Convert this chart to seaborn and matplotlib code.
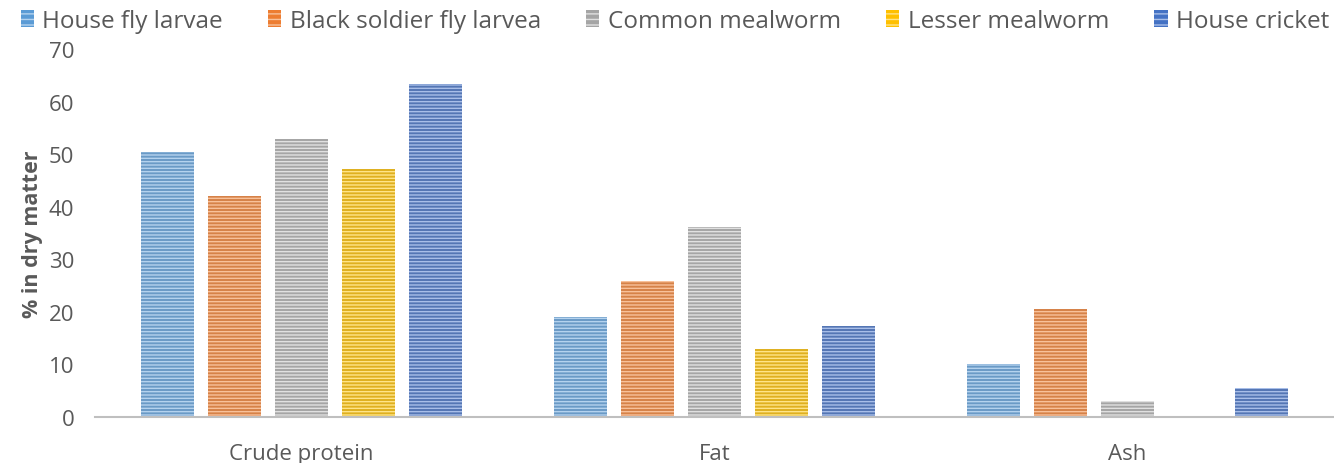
import matplotlib
matplotlib.use("Agg")
import pandas as pd
import seaborn as sns
from matplotlib import pyplot as plt
from matplotlib.patches import Patch

nutrients = ["Crude protein", "Fat", "Ash"]
insects = ["House fly larvae", "Black soldier fly larvea", "Common mealworm",
           "Lesser mealworm", "House cricket"]
house_fly = [50.4, 19.0, 10.1]
black_soldier = [42.0, 25.9, 20.5]
common_mealworm = [52.8, 36.1, 3.0]
lesser_mealworm = [47.1, 12.9, 0.0]
house_cricket = [63.3, 17.3, 5.5]

colors = ["#5B9BD5", "#ED7D31", "#A5A5A5", "#FFC000", "#4472C4"]
stripe_colors = ["#B4D2EE", "#F8C19A", "#E0E0E0", "#FFE488", "#A8BEE8"]

values = [house_fly, black_soldier, common_mealworm, lesser_mealworm, house_cricket]
rows = []
for name, vals in zip(insects, values):
    for nut, v in zip(nutrients, vals):
        rows.append({"nutrient": nut, "insect": name, "value": v})
data = pd.DataFrame(rows)

sns.set_style("white")
plt.rcParams["font.family"] = ["Open Sans", "DejaVu Sans"]
plt.rcParams["hatch.linewidth"] = 1.0

fig = plt.figure(figsize=(13.34, 4.64), dpi=100)
ax = fig.add_axes([0.0712, 0.0991, 0.9288, 0.793])

sns.barplot(data, x="nutrient", y="value", hue="insect", order=nutrients, hue_order=insects,
            palette=colors, width=0.81, gap=0.2, legend=False, ax=ax)

for cont, stripe in zip(ax.containers, stripe_colors):
    for bar in cont:
        bar.set_hatch("-----")
        bar.set_edgecolor(stripe)
        bar.set_linewidth(0)

ax.set_xlim(-0.5, 2.5)
ax.set_ylim(0, 70)
ax.set_yticks(range(0, 71, 10))
ax.set_xlabel("")
ax.set_ylabel("% in dry matter", fontsize=15.5, fontweight="bold", color="#595959", labelpad=4)
ax.tick_params(axis="y", length=0, pad=15, labelsize=16, labelcolor="#595959")
ax.tick_params(axis="x", length=0, pad=19, labelsize=16, labelcolor="#595959")
sns.despine(ax=ax, left=True, top=True, right=True)
ax.spines["bottom"].set_color("#BFBFBF")
ax.spines["bottom"].set_linewidth(1.5)

handles = [Patch(facecolor=c, edgecolor=s, hatch="---", linewidth=0, label=n)
           for c, s, n in zip(colors, stripe_colors, insects)]
fig.legend(handles=handles, loc="upper center", bbox_to_anchor=(0.506, 1.025), ncol=5,
           frameon=False, fontsize=17.5, handlelength=0.55, handleheight=0.7,
           handletextpad=0.35, columnspacing=1.85, labelcolor="#595959")

plt.savefig("out.png", dpi=100)
plt.close()
